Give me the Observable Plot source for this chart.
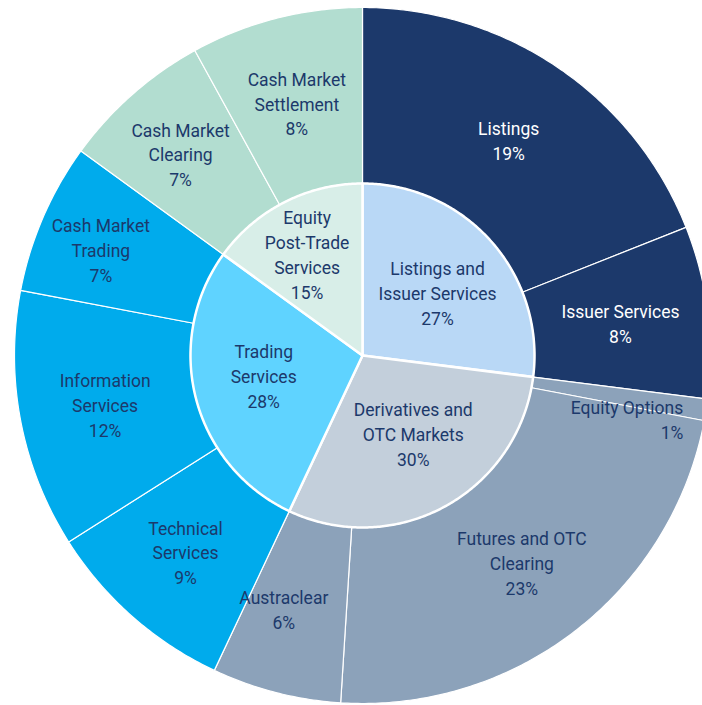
<!DOCTYPE html>
<html><head><meta charset="utf-8">
<script src="https://cdn.jsdelivr.net/npm/d3@7"></script>
<script src="https://cdn.jsdelivr.net/npm/@observablehq/plot@0.6"></script>
<style>html,body{margin:0;padding:0;overflow:hidden;background:#fff}</style>
</head><body><div id="chart"></div>
<script>
const groups = ["Listings and\nIssuer Services", "Derivatives and\nOTC Markets", "Trading\nServices", "Equity\nPost-Trade\nServices"];
const groupValues = [27, 30, 28, 15];
const groupColors = ["#b9d8f6", "#c3cfdb", "#5fd3ff", "#d8eee8"];
const ringColors = ["#1c396b", "#8ca2ba", "#00abec", "#b2ddd0"];
const ringTextColors = ["#ffffff", "#1c396b", "#1c396b", "#1c396b"];

const items = ["Listings", "Issuer Services", "Equity Options", "Futures and OTC\nClearing", "Austraclear", "Technical\nServices", "Information\nServices", "Cash Market\nTrading", "Cash Market\nClearing", "Cash Market\nSettlement"];
const itemValues = [19, 8, 1, 23, 6, 9, 12, 7, 7, 8];
const itemGroup = [0, 0, 1, 1, 1, 2, 2, 2, 3, 3];

// label placement tweaks (pixels) so labels sit as in the original
const innerNudge = [[0, 3], [5, -6], [0, -6], [0, 7]];
const outerNudge = [[0, -1], [0, 0], [0, 0], [0, 1], [-14, 1], [-5, 1], [-2, 0], [-23, -3], [-10, -7], [-1, -1]];

const R0 = 172, R1 = 348;
const total = d3.sum(groupValues);
const ang = v => v / total * 2 * Math.PI;

function arcPoly(a0, a1, r0, r1, key) {
  const pts = [];
  const n = Math.max(2, Math.ceil((a1 - a0) / 0.01));
  for (let i = 0; i <= n; i++) { const a = a0 + (a1 - a0) * i / n; pts.push({key, x: r1 * Math.sin(a), y: r1 * Math.cos(a)}); }
  if (r0 > 0) for (let i = n; i >= 0; i--) { const a = a0 + (a1 - a0) * i / n; pts.push({key, x: r0 * Math.sin(a), y: r0 * Math.cos(a)}); }
  else pts.push({key, x: 0, y: 0});
  return pts;
}

let cum = 0;
const inner = groups.map((g, i) => { const a0 = ang(cum); cum += groupValues[i]; return {g, i, a0, a1: ang(cum), v: groupValues[i]}; });
cum = 0;
const outer = items.map((t, i) => { const a0 = ang(cum); cum += itemValues[i]; return {t, i, a0, a1: ang(cum), v: itemValues[i], grp: itemGroup[i]}; });

const innerPts = inner.flatMap(d => arcPoly(d.a0, d.a1, 0, R0, "g" + d.i).map(p => ({...p, fill: groupColors[d.i]})));
const outerPts = outer.flatMap(d => arcPoly(d.a0, d.a1, R0, R1, "o" + d.i).map(p => ({...p, fill: ringColors[d.grp]})));

const innerR = [100, 95, 102, 122];
const innerLabels = inner.map(d => { const a = (d.a0 + d.a1) / 2, r = innerR[d.i]; return {x: r * Math.sin(a) + innerNudge[d.i][0], y: r * Math.cos(a) - innerNudge[d.i][1], text: d.g + "\n" + d.v + "%"}; });
const outerLabels = outer.map(d => { const a = (d.a0 + d.a1) / 2, r = 260; return {x: r * Math.sin(a) + outerNudge[d.i][0], y: r * Math.cos(a) - outerNudge[d.i][1], text: d.t + "\n" + d.v + "%", color: ringTextColors[d.grp], i: d.i}; });
const eqOpt = outerLabels.filter(d => d.i === 2);
const others = outerLabels.filter(d => d.i !== 2);

const fs = 17.5, lh = 1.42, fw = 400;
const chart = Plot.plot({
  width: 702, height: 705,
  margin: 0,
  x: {domain: [-362, 340], axis: null},
  y: {domain: [-350, 355], axis: null},
  style: {fontFamily: "Roboto, 'Open Sans', sans-serif", background: "#fff"},
  marks: [
    Plot.line(outerPts, {x: "x", y: "y", z: "key", fill: "fill", stroke: "#fff", strokeWidth: 1.2, curve: "linear-closed"}),
    Plot.line(innerPts, {x: "x", y: "y", z: "key", fill: "fill", stroke: "#fff", strokeWidth: 2.5, curve: "linear-closed"}),
    Plot.text(innerLabels, {x: "x", y: "y", text: "text", fill: "#1c396b", fontSize: fs, lineHeight: lh, fontWeight: fw}),
    Plot.text(others, {x: "x", y: "y", text: "text", fill: "color", fontSize: fs, lineHeight: lh, fontWeight: fw}),
    Plot.text(eqOpt, {x: "x", y: "y", text: "text", fill: "color", fontSize: fs, lineHeight: lh, fontWeight: fw, textAnchor: "end", dx: 64, dy: 22})
  ]
});
document.getElementById("chart").append(chart);
</script></body></html>
